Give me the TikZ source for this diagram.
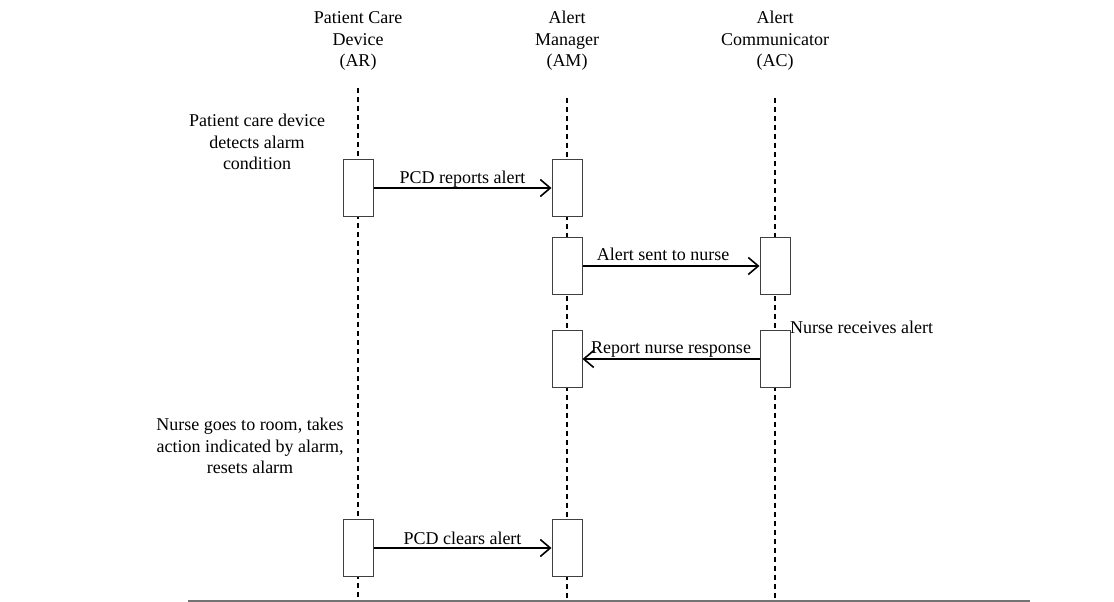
\documentclass[tikz,border=0pt]{standalone}
\usepackage{fontspec}
\setmainfont{Liberation Serif}
\usetikzlibrary{arrows.meta,positioning}

\tikzset{
  txt/.style={align=center, font=\fontsize{18pt}{21.5pt}\selectfont},
  act/.style={draw=black!75, line width=1pt, fill=white, minimum width=30pt, minimum height=57pt, inner sep=0pt},
  msg/.style={line width=1.8pt, -{Straight Barb[length=10pt,width=17pt,line width=1.6pt]}},
  life/.style={dash pattern=on 5pt off 4pt, line width=1.3pt},
  lbl/.style={txt, above, inner sep=0pt}
}

\begin{document}
\begin{tikzpicture}[x=1pt,y=-1pt]
    \useasboundingbox (0,0) rectangle (1114,602);

    % --- Szereplok (fejlec) ---
    \node[txt] (ar) at (358,41) {Patient Care\\Device\\(AR)};
    \node[txt] (am) at (567,41) {Alert\\Manager\\(AM)};
    \node[txt] (ac) at (775,41) {Alert\\Communicator\\(AC)};

    % Eletvonalak
    \foreach \n/\t in {ar/88, am/98, ac/98}
        \draw[life] (\n.south |- 0,\t) -- (\n.south |- 0,602);

    % Aktivacios dobozok
    \node[act] (ar1) at (358,188) {};
    \node[act] (am1) at (567,188) {};
    \node[act] (am2) at (567,266) {};
    \node[act] (ac2) at (775,266) {};
    \node[act] (am3) at (567,359) {};
    \node[act] (ac3) at (775,359) {};
    \node[act] (ar4) at (358,548) {};
    \node[act] (am4) at (567,548) {};

    % --- Uzenetek ---
    \draw[msg] (ar1) -- node[lbl] {PCD reports alert} (am1);
    \draw[msg] (am2) -- node[lbl, yshift=4pt, xshift=-8pt] {Alert sent to nurse} (ac2);
    \draw[msg] (ac3) -- node[lbl, yshift=1pt] {Report nurse response} (am3);
    \draw[msg] (ar4) -- node[lbl, yshift=2pt] {PCD clears alert} (am4);

    % Megjegyzesek
    \node[txt] (detect) at (257,142) {Patient care device\\detects alarm\\condition};
    \node[txt] (reset) at (250,446) {Nurse goes to room, takes\\action indicated by alarm,\\resets alarm};
    \node[txt, anchor=west, inner sep=0pt] (recv) at (790,327) {Nurse receives alert};

    % Also vonal
    \draw[black!55, line width=1.5pt] (188,601) -- (1030,601);

\end{tikzpicture}
\end{document}
